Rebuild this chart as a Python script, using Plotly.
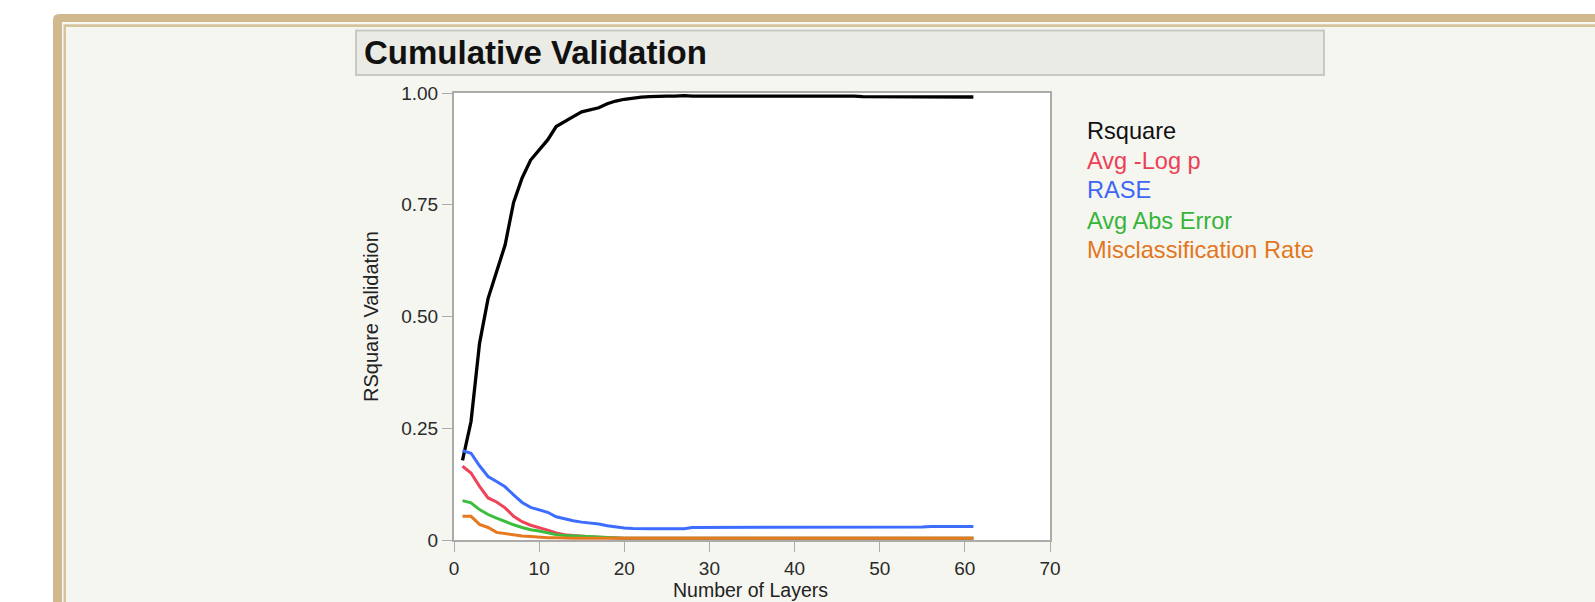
import plotly.graph_objects as go

# ---------------- data ----------------
layers = [1, 2, 3, 4, 5, 6, 7, 8, 9, 10, 11, 12, 13, 14, 15, 16, 17, 18, 19, 20,
          21, 22, 23, 24, 25, 26, 27, 28, 29, 30, 31, 32, 33, 34, 35, 36, 37, 38, 39, 40,
          41, 42, 43, 44, 45, 46, 47, 48, 49, 50, 51, 52, 53, 54, 55, 56, 57, 58, 59, 60, 61]

rsquare = [0.178, 0.265, 0.44, 0.54, 0.60, 0.66, 0.755, 0.81, 0.85, 0.872,
           0.895, 0.925, 0.935, 0.947, 0.958, 0.963, 0.967, 0.976, 0.982, 0.986,
           0.989, 0.991, 0.992, 0.993, 0.993, 0.993, 0.994, 0.993, 0.993, 0.993,
           0.993, 0.994, 0.994, 0.994, 0.994, 0.994, 0.994, 0.994, 0.994, 0.994,
           0.993, 0.993, 0.993, 0.993, 0.993, 0.993, 0.993, 0.992, 0.992, 0.992,
           0.992, 0.992, 0.992, 0.992, 0.992, 0.992, 0.991, 0.991, 0.991, 0.991, 0.991]

avg_log_p = [0.165, 0.150, 0.120, 0.094, 0.085, 0.072, 0.053, 0.041, 0.033, 0.028,
             0.022, 0.016, 0.012, 0.010, 0.008, 0.007, 0.006, 0.005, 0.005, 0.004,
             0.004, 0.004, 0.004, 0.004, 0.004, 0.004, 0.004, 0.004, 0.004, 0.004,
             0.004, 0.004, 0.004, 0.004, 0.004, 0.004, 0.004, 0.004, 0.004, 0.004,
             0.004, 0.004, 0.004, 0.004, 0.004, 0.004, 0.004, 0.004, 0.004, 0.004,
             0.004, 0.004, 0.004, 0.004, 0.004, 0.004, 0.004, 0.004, 0.004, 0.004, 0.004]

rase = [0.200, 0.194, 0.166, 0.142, 0.131, 0.119, 0.101, 0.084, 0.073, 0.068,
        0.062, 0.052, 0.047, 0.043, 0.040, 0.038, 0.036, 0.032, 0.029, 0.027,
        0.026, 0.025, 0.025, 0.025, 0.025, 0.025, 0.025, 0.028, 0.028, 0.028,
        0.028, 0.028, 0.028, 0.028, 0.028, 0.028, 0.028, 0.028, 0.028, 0.028,
        0.028, 0.028, 0.028, 0.028, 0.028, 0.028, 0.028, 0.028, 0.029, 0.029,
        0.029, 0.029, 0.029, 0.029, 0.029, 0.030, 0.030, 0.030, 0.030, 0.030, 0.030]

avg_abs_error = [0.088, 0.083, 0.068, 0.057, 0.049, 0.041, 0.034, 0.028, 0.023, 0.020,
                 0.016, 0.012, 0.010, 0.009, 0.008, 0.007, 0.006, 0.005, 0.004, 0.004,
                 0.004, 0.004, 0.004, 0.004, 0.004, 0.004, 0.004, 0.004, 0.004, 0.004,
                 0.004, 0.004, 0.004, 0.004, 0.004, 0.004, 0.004, 0.004, 0.004, 0.004,
                 0.004, 0.004, 0.004, 0.004, 0.004, 0.004, 0.004, 0.004, 0.004, 0.004,
                 0.004, 0.004, 0.004, 0.004, 0.004, 0.004, 0.004, 0.004, 0.004, 0.004, 0.004]

misclass_rate = [0.053, 0.053, 0.035, 0.028, 0.017, 0.014, 0.011, 0.009, 0.008, 0.006,
                 0.005, 0.005, 0.004, 0.004, 0.004, 0.004, 0.004, 0.004, 0.004, 0.004,
                 0.004, 0.004, 0.004, 0.004, 0.004, 0.004, 0.004, 0.004, 0.004, 0.004,
                 0.004, 0.004, 0.004, 0.004, 0.004, 0.004, 0.004, 0.004, 0.004, 0.004,
                 0.004, 0.004, 0.004, 0.004, 0.004, 0.004, 0.004, 0.004, 0.004, 0.004,
                 0.004, 0.004, 0.004, 0.004, 0.004, 0.004, 0.004, 0.004, 0.004, 0.004, 0.004]

series_names = ["Rsquare", "Avg -Log p", "RASE", "Avg Abs Error", "Misclassification Rate"]
series_values = [rsquare, avg_log_p, rase, avg_abs_error, misclass_rate]
line_colors = ["#000000", "#EF4359", "#3D6DFF", "#3DBD3D", "#E6781F"]
line_widths = [3.3, 3, 3, 3, 3]
text_colors = ["#111111", "#EC3F56", "#3D66F5", "#38B43A", "#E2761E"]

x_ticks = [0, 10, 20, 30, 40, 50, 60, 70]
y_ticks = [0, 0.25, 0.5, 0.75, 1.0]
y_tick_text = ["0", "0.25", "0.50", "0.75", "1.00"]

# ---------------- geometry (pixels) ----------------
W, H = 1595, 602
L, R, T, B = 454, 1050, 93, 540


def px(x):
    return (x - L) / (R - L)


def py(y):
    return (B - y) / (B - T)


FONT = "Liberation Sans, Arial, Helvetica, sans-serif"

fig = go.Figure()
for name, vals, col, lw in zip(series_names, series_values, line_colors, line_widths):
    fig.add_trace(go.Scatter(x=layers, y=vals, mode="lines", name=name,
                             line=dict(color=col, width=lw), showlegend=False))

# ---------------- frame / background shapes ----------------
tan = "#D1B98E"
r = 6
outer_path = (f"M {px(53)},{py(640)} L {px(53)},{py(14 + r)} "
              f"Q {px(53)},{py(14)} {px(53 + r)},{py(14)} "
              f"L {px(1700)},{py(14)} L {px(1700)},{py(640)} Z")
shapes = [
    dict(type="path", path=outer_path, fillcolor=tan, line=dict(width=0)),
    dict(type="rect", x0=px(62), x1=px(1700), y0=py(22), y1=py(640),
         fillcolor="#F8F8F4", line=dict(width=0)),
    dict(type="rect", x0=px(63.5), x1=px(1700), y0=py(24.3), y1=py(640),
         fillcolor="#D6C49F", line=dict(width=0)),
    dict(type="rect", x0=px(66), x1=px(1700), y0=py(27), y1=py(640),
         fillcolor="#F6F6F1", line=dict(width=0)),
    dict(type="rect", x0=0, x1=1, y0=0, y1=1, fillcolor="#FFFFFF", line=dict(width=0)),
    dict(type="rect", x0=px(356), x1=px(1324), y0=py(30.5), y1=py(75),
         fillcolor="#EBEBE6", line=dict(color="#C9C9C4", width=2)),
]
for s in shapes:
    s.update(xref="paper", yref="paper", layer="below")

# ---------------- text ----------------
annotations = [
    dict(text="<b>Cumulative Validation</b>", x=px(362), y=py(53), xanchor="left",
         yanchor="middle", font=dict(family=FONT, size=33, color="#111111")),
    dict(text="RSquare Validation", x=px(371), y=py(317), textangle=-90,
         xanchor="center", yanchor="middle", font=dict(family=FONT, size=20, color="#222222")),
    dict(text="Number of Layers", x=px(750), y=py(590), xanchor="center",
         yanchor="middle", font=dict(family=FONT, size=19.5, color="#222222")),
]
legend_y = [131, 161, 190, 221, 250]
for name, col, yy in zip(series_names, text_colors, legend_y):
    annotations.append(dict(text=name, x=px(1085), y=py(yy), xanchor="left",
                            yanchor="middle", font=dict(family=FONT, size=23.6, color=col)))
for a in annotations:
    a.update(xref="paper", yref="paper", showarrow=False)

axis_col = "#ABABAB"
fig.update_layout(
    width=W, height=H,
    margin=dict(l=L, r=W - R, t=T, b=H - B, pad=0),
    paper_bgcolor="#FFFFFF",
    plot_bgcolor="rgba(0,0,0,0)",
    shapes=shapes,
    annotations=annotations,
    xaxis=dict(range=[0, 70], tickvals=x_ticks, ticks="outside", ticklen=10,
               tickcolor=axis_col, tickwidth=1, showline=True, linecolor=axis_col,
               linewidth=2, mirror=True, showgrid=False, zeroline=False,
               tickfont=dict(family=FONT, size=19, color="#2A2A2A"), fixedrange=True),
    yaxis=dict(range=[0, 1], tickvals=y_ticks, ticktext=y_tick_text, ticks="outside",
               ticklen=10, tickcolor=axis_col, tickwidth=1, showline=True,
               linecolor=axis_col, linewidth=2, mirror=True, showgrid=False,
               zeroline=False, tickfont=dict(family=FONT, size=19, color="#2A2A2A"),
               fixedrange=True),
)

fig.write_html(
    "out.html",
    config={"displayModeBar": False},
    post_script="document.body.style.margin='0';document.body.style.padding='0';"
                "document.documentElement.style.overflow='hidden';",
)
